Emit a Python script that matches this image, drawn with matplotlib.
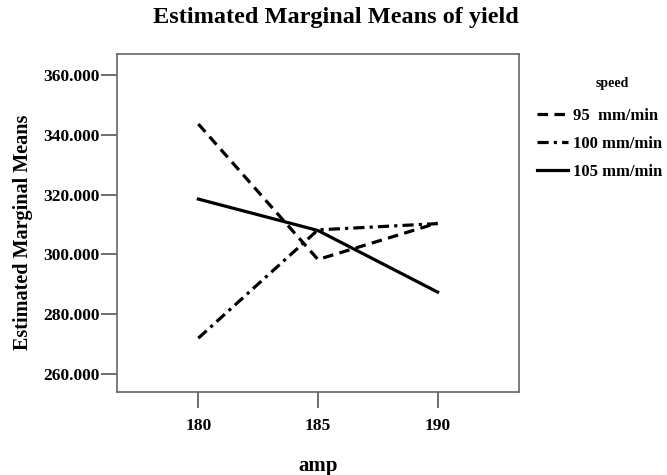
import matplotlib.pyplot as plt

amp = [180, 185, 190]
speeds = ['95  mm/min', '100 mm/min', '105 mm/min']
yield_95 = [343.6, 298.3, 310.5]
yield_100 = [272.0, 308.2, 310.3]
yield_105 = [318.5, 308.0, 287.4]
yticks = [260, 280, 300, 320, 340, 360]

plt.rcParams['font.family'] = ['Liberation Serif', 'DejaVu Serif']
plt.rcParams['font.weight'] = 'bold'

fig = plt.figure(figsize=(6.67, 4.75), dpi=100)
ax = fig.add_axes([0.1754, 0.1747, 0.6026, 0.7116])

styles = [(0, (3.3, 2.0)), (0, (3.5, 1.6, 1.0, 1.6)), '-']
lines = []
for y, lab, ls in zip([yield_95, yield_100, yield_105], speeds, styles):
    ln, = ax.plot(amp, y, color='black', lw=2.3, linestyle=ls, label=lab)
    lines.append(ln)

ax.set_xlim(176.6, 193.4)
ax.set_ylim(254, 367)
ax.set_xticks(amp)
ax.set_yticks(yticks)
ax.set_yticklabels(['%d.000' % v for v in yticks])
ax.tick_params(labelsize=12.5, length=11.5, width=1.2, color='#555555')
ax.tick_params(axis='y', pad=1)
ax.tick_params(axis='x', pad=7)
for s in ax.spines.values():
    s.set_color('#666666')
    s.set_linewidth(1.2)

ax.set_xlabel('amp', fontsize=15, fontweight='bold', va='top')
ax.xaxis.set_label_coords(0.5, -0.19)
ax.set_ylabel('Estimated Marginal Means', fontsize=14.5, fontweight='bold')
ax.yaxis.set_label_coords(-0.21, 0.473)
fig.text(336 / 667, 1 - 18 / 475, 'Estimated Marginal Means of yield',
         fontsize=17.5, fontweight='bold', ha='center', va='center')

fig.text(612 / 667, 1 - 83 / 475, 'speed', fontsize=10, fontweight='bold',
         ha='center', va='center')
fig.legend(handles=lines, loc='upper left', bbox_to_anchor=(537 / 667, 1 - 108 / 475),
           frameon=False, fontsize=12, handlelength=1.85, handletextpad=0.3,
           labelspacing=0.72, borderpad=0, borderaxespad=0)

fig.savefig('out.png', dpi=100)
